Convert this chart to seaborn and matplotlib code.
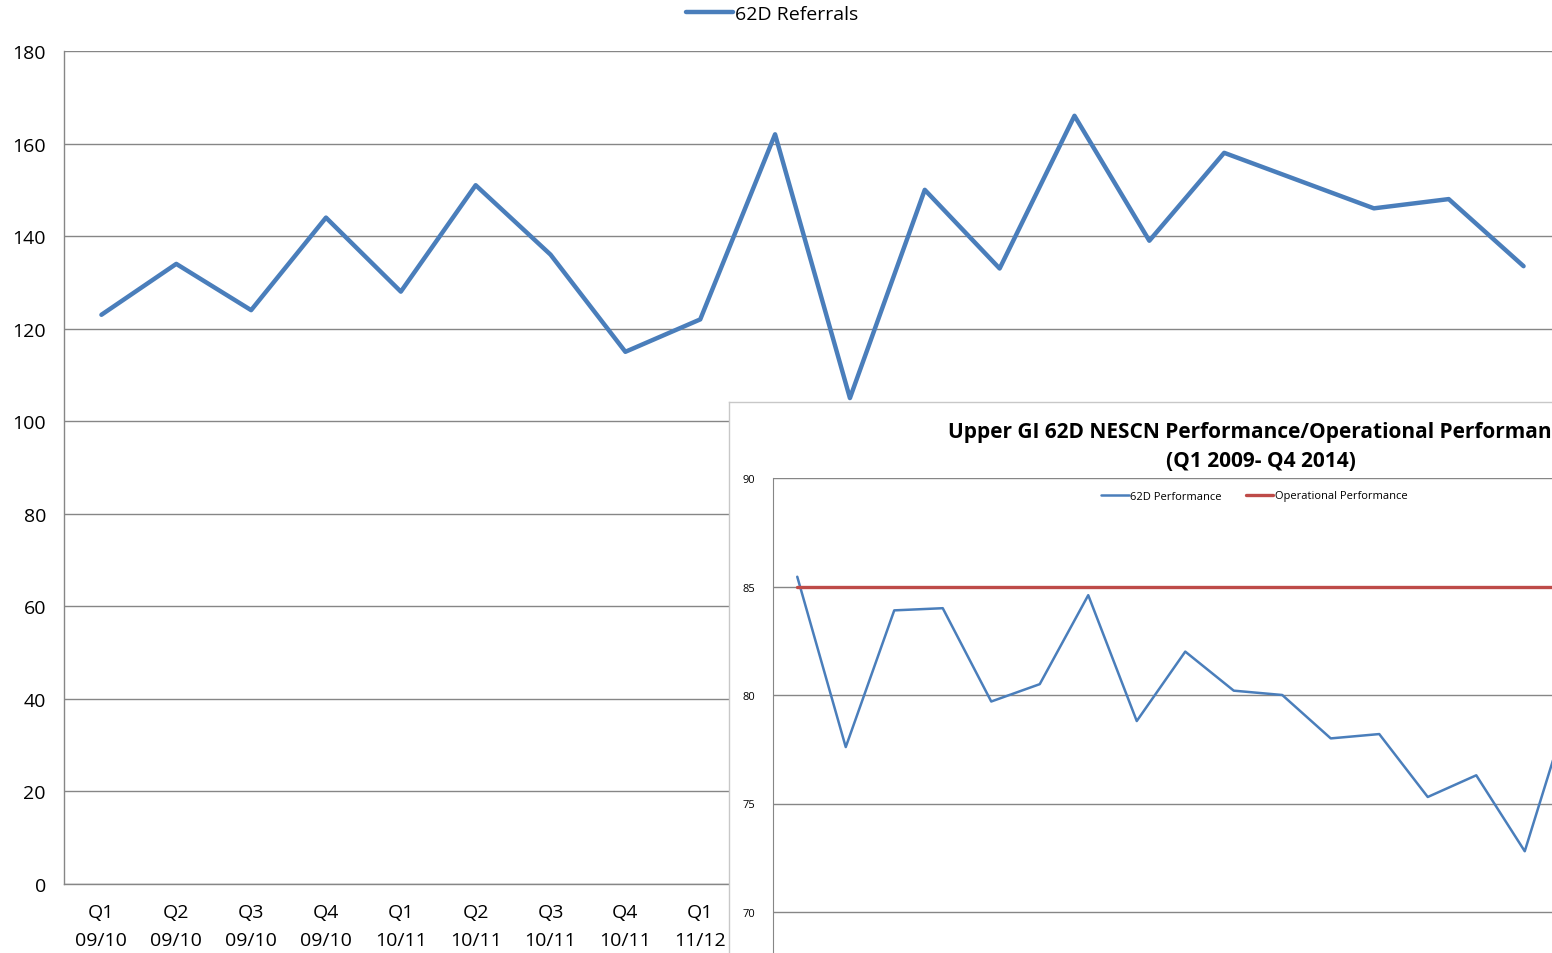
import matplotlib
matplotlib.use('Agg')
import matplotlib.pyplot as plt
import seaborn as sns
import pandas as pd

# main chart data: 62D referrals per quarter
quarters = ['Q1', 'Q2', 'Q3', 'Q4'] * 5
years = ['09/10'] * 4 + ['10/11'] * 4 + ['11/12'] * 4 + ['12/13'] * 4 + ['13/14'] * 4
referrals = [123, 134, 124, 144, 128, 151, 136, 115, 122, 162,
             105, 150, 133, 166, 139, 158, 152, 146, 148, 133.5]

# inset chart data (only the visible part of it)
perf_62d = [85.45, 77.6, 83.9, 84.0, 79.7, 80.5, 84.6, 78.8, 82.0,
            80.2, 80.0, 78.0, 78.2, 75.3, 76.3, 72.8, 80.0]
operational = [85] * len(perf_62d)

blue = '#4A7EBB'
red = '#BE4B48'
grid_col = '#868686'

sns.set_style('white')
plt.rcParams['font.family'] = ['Open Sans', 'DejaVu Sans']
plt.rcParams['text.color'] = 'black'
plt.rcParams['xtick.labelcolor'] = 'black'
plt.rcParams['ytick.labelcolor'] = 'black'

fig = plt.figure(figsize=(15.52, 9.54), dpi=100)

# ---- main chart ----
ax = fig.add_axes([64 / 1552, 1 - 885 / 954, 1497 / 1552, (885 - 52) / 954])
df = pd.DataFrame({'idx': range(len(referrals)), 'val': referrals})
sns.lineplot(data=df, x='idx', y='val', ax=ax, color=blue, linewidth=3.2,
             sort=False, label='62D Referrals', legend=False)
ax.set_xlim(-0.5, len(referrals) - 0.5)
ax.set_ylim(0, 180)
ax.set_yticks(range(0, 181, 20))
ax.yaxis.grid(True, color=grid_col, linewidth=1)
ax.set_axisbelow(True)
ax.set_xticks(range(len(referrals)))
ax.set_xticklabels([q + '\n' + y for q, y in zip(quarters, years)], linespacing=1.65)
ax.set_xticks([i - 0.5 for i in range(len(referrals) + 1)], minor=True)
ax.tick_params(axis='x', which='major', length=0, pad=14, labelsize=14)
ax.tick_params(axis='x', which='minor', length=8, color=grid_col, width=1, direction='out')
ax.tick_params(axis='y', length=7, color=grid_col, width=1, labelsize=14, pad=6, direction='out')
for s in ['top', 'right']:
    ax.spines[s].set_visible(False)
for s in ['left', 'bottom']:
    ax.spines[s].set_color(grid_col)
    ax.spines[s].set_linewidth(1)
ax.set_xlabel('')
ax.set_ylabel('')
h, l = ax.get_legend_handles_labels()
fig.legend(h, l, loc='center', bbox_to_anchor=(772 / 1552, 1 - 15 / 954), frameon=False,
           fontsize=14, handlelength=2.4, handletextpad=0.1)

# ---- inset chart (chart area frame) ----
frame = fig.add_axes([729 / 1552, -0.1, 1.2, 1 - 403 / 954 + 0.1])
frame.set_facecolor('white')
frame.set_xticks([])
frame.set_yticks([])
for s in frame.spines.values():
    s.set_color('#c8c8c8')
    s.set_linewidth(1)
fig.text(1261 / 1552, 1 - 447 / 954,
         'Upper GI 62D NESCN Performance/Operational Performance\n(Q1 2009- Q4 2014)',
         ha='center', va='center', fontsize=15, fontweight='bold', linespacing=1.5)

ax2 = fig.add_axes([773 / 1552, 1 - 1021.5 / 954, 1164 / 1552, (1021.5 - 479) / 954])
ax2.set_facecolor('none')
df2 = pd.DataFrame({'idx': range(len(perf_62d)), '62D Performance': perf_62d,
                    'Operational Performance': operational})
sns.lineplot(data=df2, x='idx', y='62D Performance', ax=ax2, color=blue, linewidth=1.8,
             sort=False, label='62D Performance', legend=False)
sns.lineplot(data=df2, x='idx', y='Operational Performance', ax=ax2, color=red, linewidth=2.4,
             sort=False, label='Operational Performance', legend=False)
ax2.set_xlim(-0.5, 23.5)
ax2.set_ylim(65, 90)
ax2.set_yticks(range(70, 91, 5))
ax2.yaxis.grid(True, color=grid_col, linewidth=1)
ax2.set_axisbelow(True)
ax2.set_xticks([])
ax2.tick_params(axis='y', length=5, color=grid_col, labelsize=8, pad=8, direction='out')
for s in ['top', 'right', 'bottom']:
    ax2.spines[s].set_visible(False)
ax2.spines['left'].set_color(grid_col)
ax2.set_xlabel('')
ax2.set_ylabel('')
h2, l2 = ax2.get_legend_handles_labels()
fig.legend(h2, l2, loc='center', bbox_to_anchor=(1254 / 1552, 1 - 497 / 954), frameon=False,
           fontsize=8, ncol=2, handlelength=2.5, handletextpad=0.1, columnspacing=2.2)

fig.savefig('out.png', dpi=100)
